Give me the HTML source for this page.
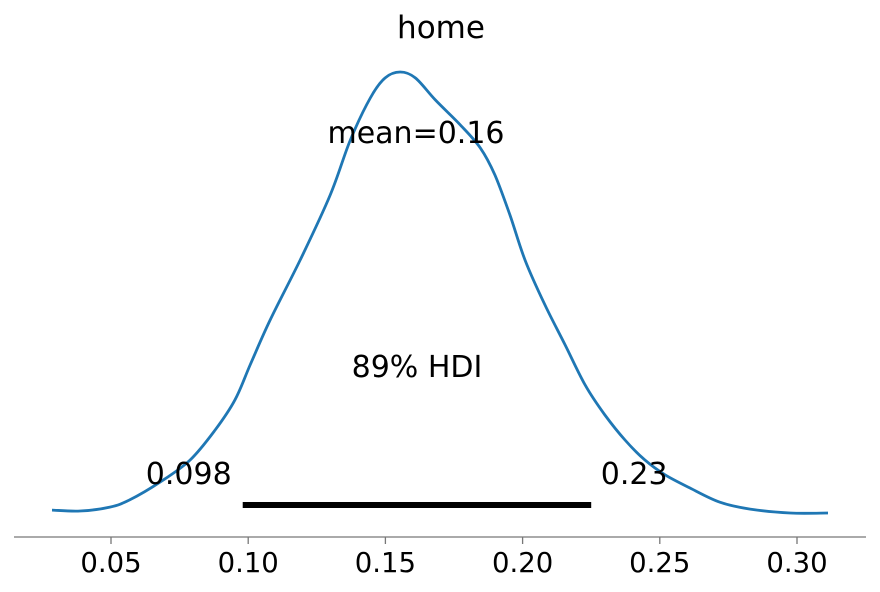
<!DOCTYPE html>
<html><head><meta charset="utf-8"><style>
body{margin:0;background:#fff;}
svg{display:block;font-family:"DejaVu Sans","Liberation Sans",sans-serif;}
</style></head><body>
<svg id="chart" width="880" height="592"></svg>
<script>
const gridX = [0.0285,0.0387,0.0496,0.0569,0.0679,0.0788,0.0879,0.0952,0.1007,0.1080,0.1189,0.1299,0.1372,0.1445,0.1499,0.1554,0.1609,0.1682,0.1773,0.1846,0.1899,0.1954,0.2009,0.2082,0.2155,0.2228,0.2300,0.2373,0.2446,0.2519,0.2610,0.2719,0.2829,0.2975,0.3113];
const density = [0.06,0.04,0.12,0.27,0.63,1.08,1.69,2.31,3.02,3.94,5.16,6.49,7.61,8.47,8.88,9.0,8.88,8.43,7.92,7.45,6.90,6.08,5.16,4.24,3.43,2.61,2.0,1.49,1.08,0.78,0.51,0.22,0.08,0,0];
const xTicks = [0.05,0.10,0.15,0.20,0.25,0.30];
const xTickLabels = ["0.05","0.10","0.15","0.20","0.25","0.30"];
const hdi = [0.098,0.225];
const hdiLabels = ["0.098","0.23"];
const meanLabel = "mean=0.16";
const titleText = "home";

const NS="http://www.w3.org/2000/svg";
const svg=document.getElementById('chart');
const X=v=>111+(v-0.05)*2744;
const Y=d=>513-d*49;
function mk(t,a,p){const e=document.createElementNS(NS,t);for(const k in a)e.setAttribute(k,a[k]);(p||svg).appendChild(e);return e;}

const title=mk('text',{x:441,y:38,'text-anchor':'middle','font-size':31,fill:'#000'});
title.textContent=titleText;



const axis=mk('line',{x1:14,x2:866,y1:537,y2:537,stroke:'#777','stroke-width':1.3});



xTicks.forEach((v,i)=>{
  const t=mk('line',{x1:X(v),x2:X(v),y1:537,y2:544,stroke:'#777','stroke-width':1.3});
  
  
  const l=mk('text',{x:X(v),y:572,'text-anchor':'middle','font-size':27.5,fill:'#000'});
  l.textContent=xTickLabels[i];
  
  
});

const P=gridX.map((v,i)=>[X(v),Y(density[i])]);
let d='M'+P[0][0].toFixed(1)+','+P[0][1].toFixed(1);
for(let i=0;i<P.length-1;i++){
  const p0=P[Math.max(0,i-1)],p1=P[i],p2=P[i+1],p3=P[Math.min(P.length-1,i+2)];
  const c1=[p1[0]+(p2[0]-p0[0])/6,p1[1]+(p2[1]-p0[1])/6];
  const c2=[p2[0]-(p3[0]-p1[0])/6,p2[1]-(p3[1]-p1[1])/6];
  d+=` C${c1[0].toFixed(1)},${c1[1].toFixed(1)} ${c2[0].toFixed(1)},${c2[1].toFixed(1)} ${p2[0].toFixed(1)},${p2[1].toFixed(1)}`;
}
const curve=mk('path',{d:d,fill:'none',stroke:'#1f77b4','stroke-width':2.8,'stroke-linejoin':'round'});



const hl=mk('line',{x1:X(hdi[0]),x2:X(hdi[1]),y1:505,y2:505,stroke:'#000','stroke-width':6});



const l1=mk('text',{x:X(hdi[0])-54,y:484,'text-anchor':'middle','font-size':30,fill:'#000'});
l1.textContent=hdiLabels[0];


const l2=mk('text',{x:X(hdi[1])+43,y:484,'text-anchor':'middle','font-size':30,fill:'#000'});
l2.textContent=hdiLabels[1];



const hd=mk('text',{x:417,y:377,'text-anchor':'middle','font-size':30,fill:'#000'});
hd.textContent="89% HDI";



const mn=mk('text',{x:416,y:143,'text-anchor':'middle','font-size':30,fill:'#000'});
mn.textContent=meanLabel;


</script>
</body></html>
